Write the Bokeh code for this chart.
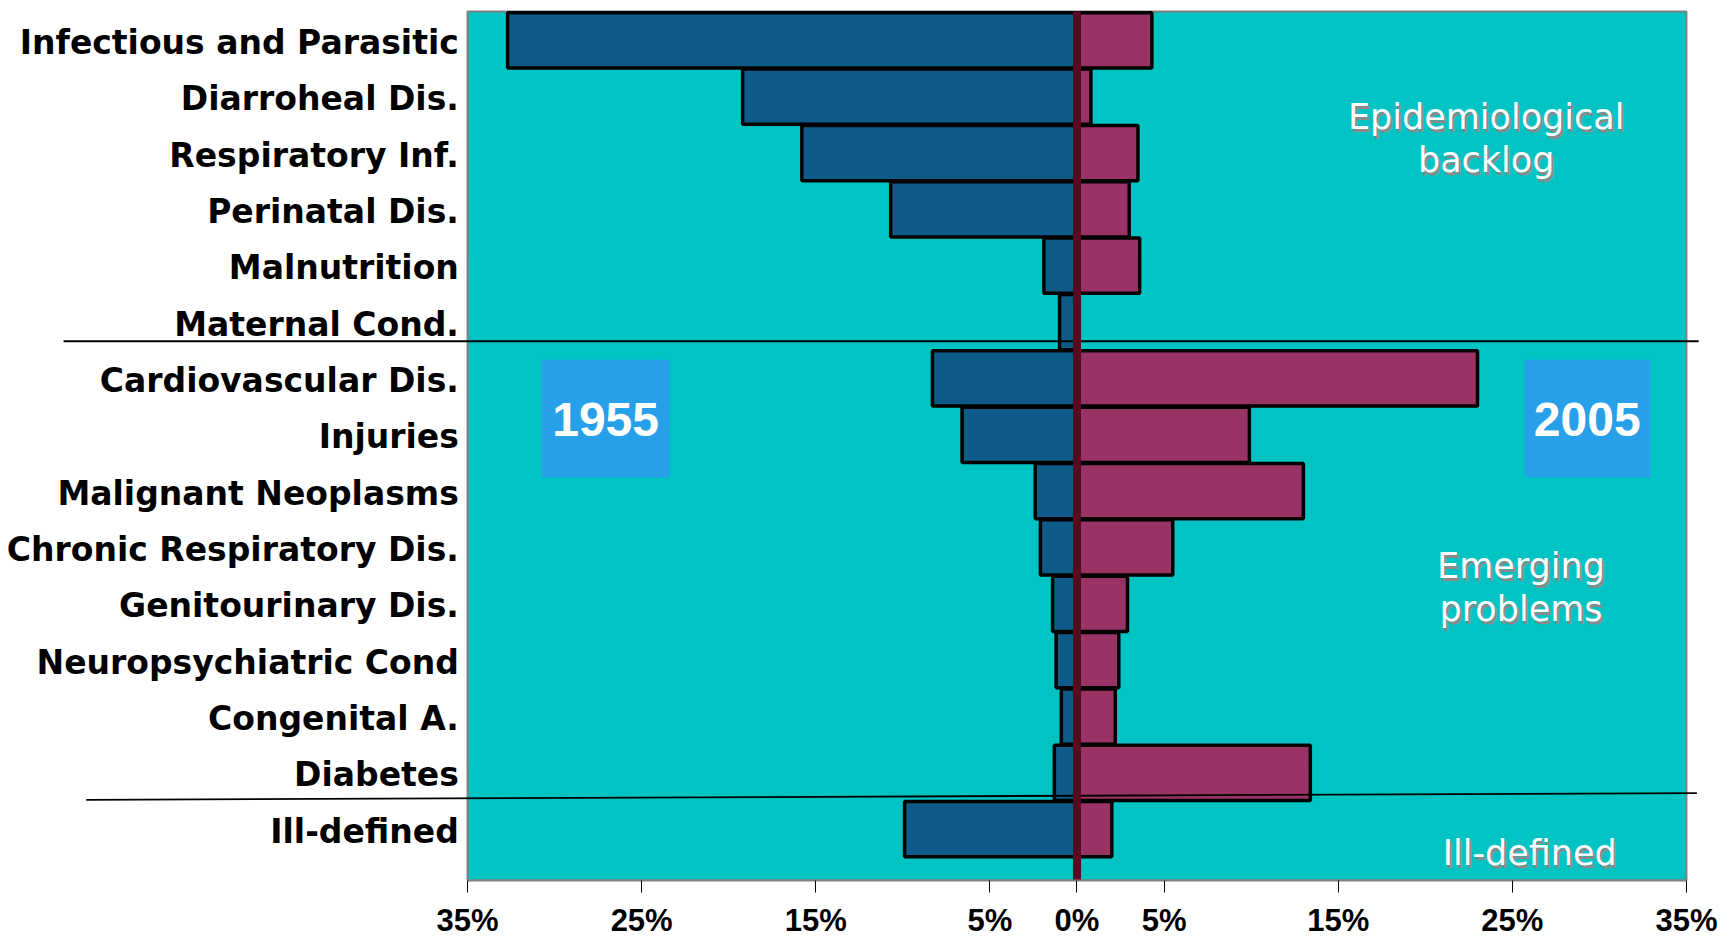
from bokeh.plotting import figure
from bokeh.models import Range1d, FixedTicker, ColumnDataSource
from bokeh.core.properties import value
from bokeh.embed import file_html
from bokeh.resources import INLINE

# ---- data -------------------------------------------------------------
categories = [
    "Infectious and Parasitic", "Diarroheal Dis.", "Respiratory Inf.",
    "Perinatal Dis.", "Malnutrition", "Maternal Cond.",
    "Cardiovascular Dis.", "Injuries", "Malignant Neoplasms",
    "Chronic Respiratory Dis.", "Genitourinary Dis.", "Neuropsychiatric Cond",
    "Congenital A.", "Diabetes", "Ill-defined",
]
share_1955 = [32.7, 19.2, 15.8, 10.7, 1.9, 1.0,
              8.3, 6.6, 2.4, 2.1, 1.4, 1.2, 0.9, 1.3, 9.9]
share_2005 = [4.3, 0.8, 3.5, 3.0, 3.6, 0.0,
              23.0, 9.9, 13.0, 5.5, 2.9, 2.4, 2.2, 13.4, 2.0]
tick_values = [-35, -25, -15, -5, 0, 5, 15, 25, 35]
tick_labels = ["35%", "25%", "15%", "5%", "0%", "5%", "15%", "25%", "35%"]
year_left = "1955"
year_right = "2005"
group_notes = [["Epidemiological", "backlog"], ["Emerging", "problems"], ["Ill-defined"]]

# ---- colours ------------------------------------------------------------
TEAL = "#00C4C4"
BLUE = "#0E5B8A"
PINK = "#993366"
MAROON = "#560B1F"
BOX = "#279FE9"

rows = list(range(len(categories)))
src = ColumnDataSource(dict(
    y=rows,
    cat=categories,
    left_1955=[-v for v in share_1955],
    right_2005=share_2005,
    zero=[0] * len(rows),
))

W, H = 1730, 940
TOP, BOT = -0.51, 14.91
p = figure(width=W, height=H, output_backend="svg", toolbar_location=None,
           x_range=Range1d(-61.82, 37.53), y_range=Range1d(BOT, -0.707),
           y_axis_location=None, min_border_left=0, min_border_right=0,
           min_border_top=0, min_border_bottom=56)
p.xgrid.visible = False
p.ygrid.visible = False
p.outline_line_color = None
p.background_fill_color = "white"

# plot area (teal)
p.quad(left=[-35], right=[35], top=[TOP], bottom=[BOT],
       fill_color=TEAL, line_color="#808080", line_width=2)

# bars
p.hbar(y="y", left="left_1955", right="zero", height=0.98, source=src,
       fill_color=BLUE, line_color="black", line_width=3.5)
p.hbar(y="y", left="zero", right="right_2005", height=0.98, source=src,
       fill_color=PINK, line_color="black", line_width=3.5)

# separator lines
p.segment(x0=[-58.2, -56.9], y0=[5.34, 13.48], x1=[35.7, 35.6], y1=[5.34, 13.36],
          line_color="black", line_width=1.8)

# centre line
p.segment(x0=[0], y0=[TOP], x1=[0], y1=[BOT], line_color=MAROON, line_width=8)

# category labels
p.text(x=-35.5, y="y", text="cat", source=src, text_align="right",
       text_baseline="middle", y_offset=2, text_font=value("DejaVu Sans"),
       text_font_style="bold", text_font_size="33px", text_color="black")

# year boxes
p.quad(left=[-30.75, 25.7], right=[-23.4, 32.93], top=[5.67, 5.67],
       bottom=[7.76, 7.76], fill_color=BOX, line_color=None)
p.text(x=[-27.07, 29.3], y=[6.72, 6.72], text=[year_left, year_right],
       text_align="center", text_baseline="middle",
       text_font=value("Liberation Sans"), text_font_style="bold",
       text_font_size="48px", text_color="white")

# group notes (white text with grey shadow)
note_x = [23.5, 23.5, 25.5, 25.5, 26.0]
note_y = [1.36, 2.13, 9.33, 10.09, 14.43]
note_t = group_notes[0] + group_notes[1] + group_notes[2]
p.text(x=note_x, y=note_y, text=note_t, x_offset=2, y_offset=3,
       text_align="center", text_baseline="alphabetic",
       text_font=value("DejaVu Sans"), text_font_size="35px",
       text_color="#8a8a8a")
p.text(x=note_x, y=note_y, text=note_t,
       text_align="center", text_baseline="alphabetic",
       text_font=value("DejaVu Sans"), text_font_size="35px",
       text_color="white")

# x axis
ax = p.xaxis[0]
ax.bounds = (-35, 35)
ax.ticker = FixedTicker(ticks=tick_values)
ax.major_label_overrides = {v: l for v, l in zip(tick_values, tick_labels)}
ax.minor_tick_line_color = None
ax.axis_line_color = "#808080"
ax.axis_line_width = 2
ax.major_tick_line_color = "black"
ax.major_tick_in = 0
ax.major_tick_out = 12
ax.major_label_standoff = 10
ax.major_label_text_font = "Liberation Sans"
ax.major_label_text_font_style = "bold"
ax.major_label_text_font_size = "31px"
ax.major_label_text_color = "black"

open("out.html", "w").write(file_html(p, INLINE))
